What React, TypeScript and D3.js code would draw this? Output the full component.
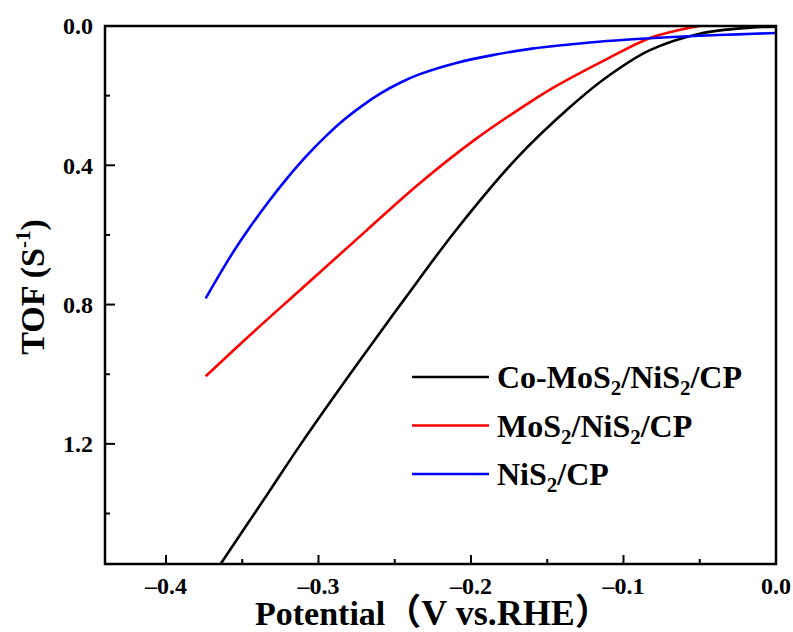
import React from "react";
import * as d3 from "d3";

const WIDTH = 793;
const HEIGHT = 632;
const margin = {top: 26, right: 17, bottom: 68, left: 105};

// potential (V vs. RHE) and TOF (S-1)
const potentialCo = [-0.365, -0.3328, -0.3115, -0.2761, -0.2429, -0.2096, -0.1701, -0.1356, -0.112, -0.083, -0.05, -0.017, 0];
const tofCo = [1.55, 1.34, 1.2, 0.98, 0.78, 0.585, 0.38, 0.235, 0.15, 0.07, 0.022, 0.005, 0.002];

const potentialMo = [-0.374, -0.345, -0.312, -0.269, -0.234, -0.197, -0.16, -0.144, -0.111, -0.083, -0.062, -0.047, -0.03];
const tofMo = [1.006, 0.888, 0.758, 0.589, 0.453, 0.325, 0.215, 0.172, 0.095, 0.035, 0.01, -0.002, -0.01];

const potentialNi = [-0.374, -0.3575, -0.345, -0.333, -0.3205, -0.308, -0.296, -0.2835, -0.271, -0.259, -0.2465, -0.234, -0.2096, -0.185, -0.16, -0.1356, -0.111, -0.083, -0.05, -0.025, 0];
const tofNi = [0.782, 0.66, 0.578, 0.506, 0.437, 0.374, 0.32, 0.27, 0.228, 0.193, 0.163, 0.139, 0.106, 0.083, 0.065, 0.053, 0.043, 0.035, 0.028, 0.024, 0.02];

const xMajor = [-0.4, -0.3, -0.2, -0.1, 0.0];
const xMinor = [-0.35, -0.25, -0.15, -0.05];
const yMajor = [0.0, 0.4, 0.8, 1.2];
const yMinor = [0.2, 0.6, 1.0, 1.4];

const series = [
    {name: ["Co-MoS", "2", "/NiS", "2", "/CP"], color: "#000000", xs: potentialCo, ys: tofCo},
    {name: ["MoS", "2", "/NiS", "2", "/CP"], color: "#ff0000", xs: potentialMo, ys: tofMo},
    {name: ["NiS", "2", "/CP"], color: "#0000ff", xs: potentialNi, ys: tofNi},
];

const FONT = "'Liberation Serif', 'DejaVu Serif', 'Noto Sans CJK SC', serif";

const fmt = (v: number) => d3.format(".1f")(v).replace("−", "–");

export default function App() {
    const x = d3.scaleLinear().domain([-0.44, 0]).range([margin.left, WIDTH - margin.right]);
    const y = d3.scaleLinear().domain([0, 1.545]).range([margin.top, HEIGHT - margin.bottom]);

    const line = d3
        .line<[number, number]>()
        .x((d) => x(d[0]))
        .y((d) => y(d[1]))
        .curve(d3.curveCatmullRom.alpha(0.5));

    const x0 = margin.left;
    const x1 = WIDTH - margin.right;
    const y0 = margin.top;
    const y1 = HEIGHT - margin.bottom;

    return (
        <svg width={WIDTH} height={HEIGHT} style={{position: "absolute", left: 0, top: 0, fontFamily: FONT, fontWeight: "bold"}}>
            <defs>
                <clipPath id="plot">
                    <rect x={x0} y={y0} width={x1 - x0} height={y1 - y0} />
                </clipPath>
            </defs>
            <rect width={WIDTH} height={HEIGHT} fill="#fff" />

            <g clipPath="url(#plot)" fill="none" strokeWidth={2.6} strokeLinejoin="round">
                {series.map((s, i) => (
                    <path key={i} stroke={s.color} d={line(s.xs.map((v, j) => [v, s.ys[j]]) as [number, number][]) || ""} />
                ))}
            </g>

            {/* ticks point inward */}
            <g stroke="#000" strokeWidth={2}>
                {xMajor.map((t) => (
                    <line key={"xM" + t} x1={x(t)} x2={x(t)} y1={y1} y2={y1 - 9} />
                ))}
                {xMinor.map((t) => (
                    <line key={"xm" + t} x1={x(t)} x2={x(t)} y1={y1} y2={y1 - 5} />
                ))}
                {yMajor.map((t) => (
                    <line key={"yM" + t} x1={x0} x2={x0 + 10} y1={y(t)} y2={y(t)} />
                ))}
                {yMinor.map((t) => (
                    <line key={"ym" + t} x1={x0} x2={x0 + 5} y1={y(t)} y2={y(t)} />
                ))}
            </g>
            <rect x={x0} y={y0} width={x1 - x0} height={y1 - y0} fill="none" stroke="#000" strokeWidth={2.5} />

            <g fontSize={24} fill="#000">
                {xMajor.map((t) => (
                    <text key={"xl" + t} x={x(t)} y={y1 + 30} textAnchor="middle">{fmt(t)}</text>
                ))}
                {yMajor.map((t) => (
                    <text key={"yl" + t} x={x0 - 12} y={y(t)} dy="0.35em" textAnchor="end">{fmt(t)}</text>
                ))}
            </g>

            <text x={255} y={625} fontSize={34} fill="#000">
                Potential<tspan fontSize={36}>（V vs.RHE）</tspan>
            </text>
            <text transform="translate(44,287) rotate(-90)" textAnchor="middle" fontSize={34} fill="#000">
                TOF (S<tspan fontSize={21} dy={-14}>-1</tspan><tspan dy={14}>)</tspan>
            </text>

            <g fill="#000" fontSize={32}>
                {series.map((s, i) => {
                    const cy = 377 + i * 48.5;
                    return (
                        <g key={i}>
                            <line x1={412} x2={489} y1={cy} y2={cy} stroke={s.color} strokeWidth={2.6} />
                            <text x={497} y={cy + 11}>
                                {s.name.map((part, k) =>
                                    part === "2" ? (
                                        <tspan key={k} fontSize={21} dy={7}>{part}</tspan>
                                    ) : (
                                        <tspan key={k} dy={k === 0 ? 0 : -7}>{part}</tspan>
                                    )
                                )}
                            </text>
                        </g>
                    );
                })}
            </g>
        </svg>
    );
}
